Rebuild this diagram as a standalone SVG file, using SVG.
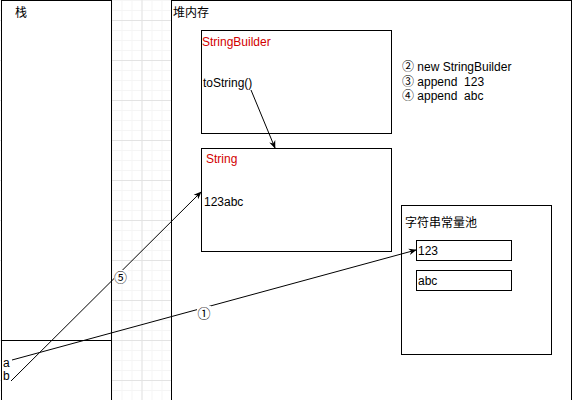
<svg xmlns="http://www.w3.org/2000/svg" width="572" height="400" viewBox="0 0 572 400">
<style>
text{font-family:"Liberation Sans","Noto Sans CJK SC",sans-serif;font-size:12px;fill:#000;}
.red{fill:#d20000;}
.box{fill:#fff;stroke:#000;stroke-width:1;}
.conn{fill:none;stroke:#000;stroke-width:1;}
.lbl{fill:#fff;stroke:none;}
.num{font-size:13px;}
</style>
<defs>
<pattern id="minor" patternUnits="userSpaceOnUse" x="1.5" y="0" width="10" height="10">
<path d="M0 0.5H10M0.5 0V10" stroke="#f5f5f5" stroke-width="1" fill="none"/>
</pattern>
<pattern id="major" patternUnits="userSpaceOnUse" x="21.5" y="20" width="40" height="40">
<path d="M0 0.5H40M0.5 0V40" stroke="#e3e3e3" stroke-width="1" fill="none"/>
</pattern>
<marker id="arr" viewBox="0 0 10 10" refX="9" refY="5" markerWidth="8" markerHeight="8" orient="auto" markerUnits="userSpaceOnUse">
<path d="M0 1L10 5L0 9L3 5Z" fill="#000"/>
</marker>
</defs>
<rect width="572" height="400" fill="#fff"/>
<rect width="572" height="400" fill="url(#minor)"/>
<rect width="572" height="400" fill="url(#major)"/>

<g id="stack">
<rect class="box" x="1.5" y="0.5" width="110" height="410"/>
<line x1="1.5" y1="340.5" x2="111.5" y2="340.5" stroke="#000"/>
<text x="15" y="17">栈</text>
<text x="3" y="367">a</text>
<text x="3" y="380">b</text>
</g>

<g id="heap">
<rect class="box" x="171.5" y="0.5" width="400" height="410"/>
<text x="173" y="17">堆内存</text>
</g>

<g id="stringbuilder">
<rect class="box" x="201.5" y="30.5" width="190" height="103"/>
<text class="red" x="202" y="46">StringBuilder</text>
<text x="203" y="87">toString()</text>
</g>

<g id="string">
<rect class="box" x="201.5" y="148.5" width="190" height="103"/>
<text class="red" x="206" y="163">String</text>
<text x="204" y="206">123abc</text>
</g>

<g id="steps">
<text x="402" y="71" xml:space="preserve">② new StringBuilder</text>
<text x="402" y="85.5" xml:space="preserve">③ append  123</text>
<text x="402" y="100" xml:space="preserve">④ append  abc</text>
</g>

<g id="pool">
<rect class="box" x="401.5" y="205.5" width="150" height="149"/>
<text x="405" y="227">字符串常量池</text>
</g>

<g id="c123">
<rect class="box" x="416.5" y="240.5" width="95" height="20"/>
<text x="418" y="255">123</text>
</g>

<g id="cabc">
<rect class="box" x="416.5" y="270.5" width="95" height="20"/>
<text x="418" y="285">abc</text>
</g>

<g id="connectors">
<line class="conn" x1="251" y1="90" x2="275" y2="148" marker-end="url(#arr)"/>
<line class="conn" x1="11" y1="381" x2="201" y2="192" marker-end="url(#arr)"/>
<line class="conn" x1="12" y1="360" x2="416" y2="250" marker-end="url(#arr)"/>
<rect class="lbl" x="114" y="270" width="14" height="14"/>
<text class="num" x="114" y="281.5">⑤</text>
<rect class="lbl" x="197" y="306" width="14" height="14"/>
<text class="num" x="197.5" y="317.5">①</text>
</g>
</svg>
